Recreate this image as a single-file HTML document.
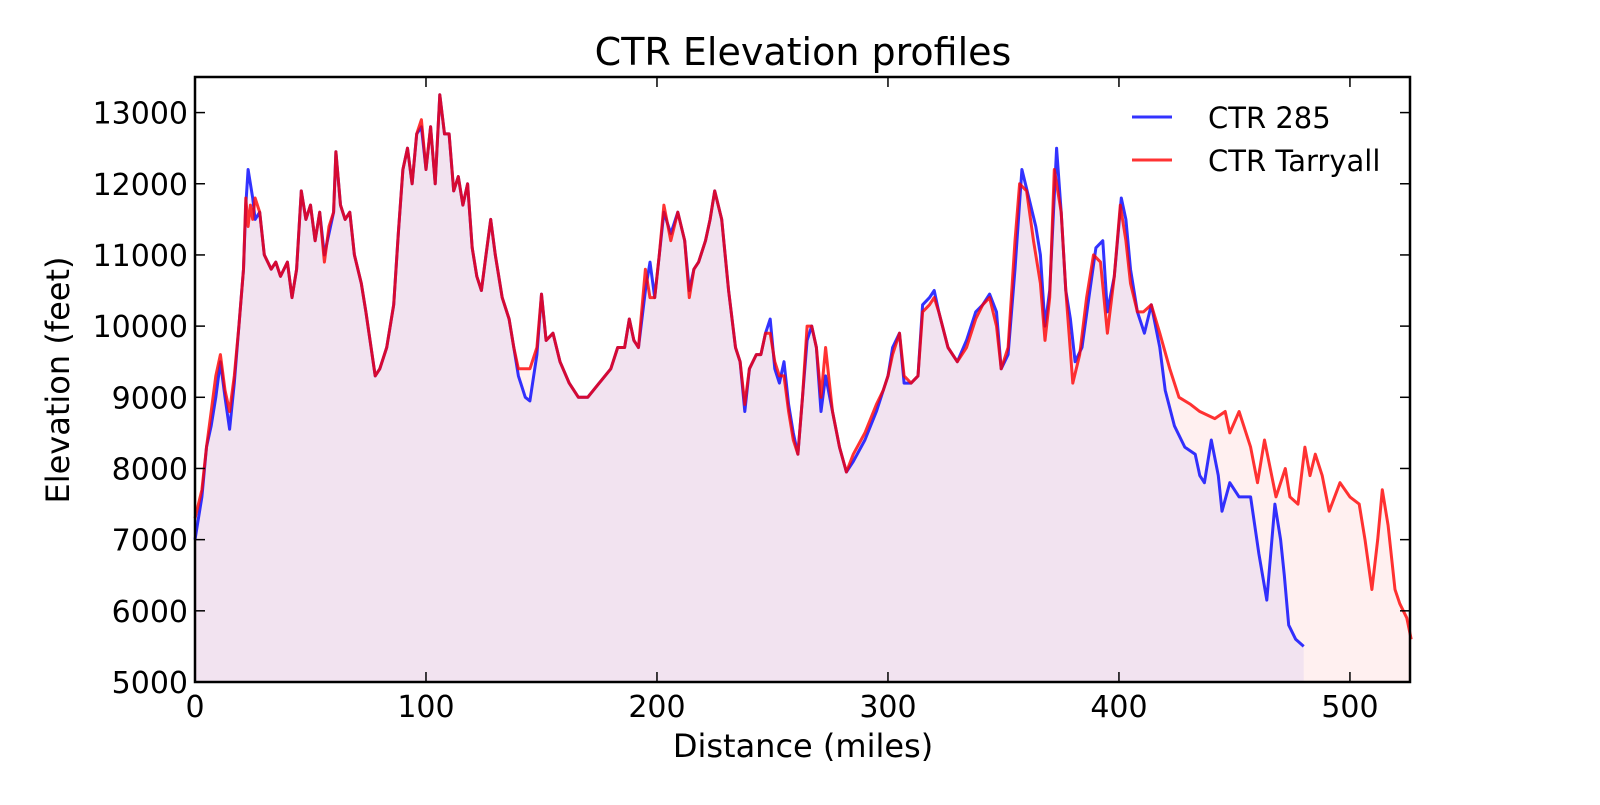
<!DOCTYPE html>
<html><head><meta charset="utf-8"><style>
body{margin:0;background:#fff;}
svg text{font-family:"DejaVu Sans","Liberation Sans",sans-serif;fill:#000;}
</style></head><body>
<svg id="chart" width="1600" height="800" viewBox="0 0 1600 800" xmlns="http://www.w3.org/2000/svg">
<rect width="1600" height="800" fill="#fff"/>
<text x="803" y="65" font-size="38" text-anchor="middle">CTR Elevation profiles</text>
<g id="fills"></g><g id="lines"></g><g id="axes"></g>
<text x="803" y="757" font-size="32" text-anchor="middle">Distance (miles)</text>
<text transform="translate(69,380) rotate(-90)" font-size="32" text-anchor="middle">Elevation (feet)</text>
<g>
<line x1="1132" y1="117" x2="1172" y2="117" stroke="rgba(0,0,255,0.8)" stroke-width="3"/>
<text x="1208" y="128" font-size="29">CTR 285</text>
<line x1="1132" y1="160" x2="1172" y2="160" stroke="rgba(255,0,0,0.8)" stroke-width="3"/>
<text x="1208" y="171" font-size="29">CTR Tarryall</text>
</g>
</svg>
<script>
const blueMiles=[0,3,5,7,9,11,13,15,17,19,21,22,23,24,25,26,28,30,33,35,37,40,42,44,46,48,50,52,54,56,58,60,61,63,65,67,69,72,74,78,80,83,86,88,90,92,94,96,98,100,102,104,106,108,110,112,114,116,118,120,122,124,126,128,130,133,136,138,140,143,145,148,150,152,155,158,162,166,170,175,180,183,186,188,190,192,195,197,199,201,203,206,209,212,214,216,218,221,223,225,228,231,234,236,238,240,243,245,247,249,251,253,255,257,259,261,263,265,267,269,271,273,276,279,282,285,290,295,298,300,302,305,307,310,313,315,318,320,322,326,330,334,338,341,344,347,349,352,355,358,361,364,366,368,370,373,375,377,379,381,384,387,390,393,395,398,401,403,405,408,411,414,417.7,420,424,428.5,433,435,437,440,443,444.6,448,452,457,460.6,464,467.5,470,471.6,473.5,476.5,480];
const blueElev=[7000,7600,8300,8600,9000,9500,9000,8550,9200,10000,10800,11700,12200,12000,11800,11500,11600,11000,10800,10900,10700,10900,10400,10800,11900,11500,11700,11200,11600,11000,11300,11600,12450,11700,11500,11600,11000,10600,10200,9300,9400,9700,10300,11300,12200,12500,12000,12700,12800,12200,12800,12000,13250,12700,12700,11900,12100,11700,12000,11100,10700,10500,11000,11500,11000,10400,10100,9700,9300,9000,8950,9600,10450,9800,9900,9500,9200,9000,9000,9200,9400,9700,9700,10100,9800,9700,10500,10900,10400,11000,11600,11300,11600,11200,10500,10800,10900,11200,11500,11900,11500,10500,9700,9500,8800,9400,9600,9600,9900,10100,9400,9200,9500,8900,8500,8200,9000,9800,10000,9700,8800,9300,8800,8300,7950,8100,8400,8800,9100,9300,9700,9900,9200,9200,9300,10300,10400,10500,10200,9700,9500,9800,10200,10300,10450,10200,9400,9600,10800,12200,11800,11400,11000,10000,10500,12500,11600,10500,10100,9500,9700,10400,11100,11200,10200,10700,11800,11500,10800,10200,9900,10300,9700,9100,8600,8300,8200,7900,7800,8400,7900,7400,7800,7600,7600,6800,6150,7500,7000,6500,5800,5600,5500];
const redMiles=[0,3,5,7,9,11,13,15,17,19,21,22,23,24,25,26,28,30,33,35,37,40,42,44,46,48,50,52,54,56,58,60,61,63,65,67,69,72,74,78,80,83,86,88,90,92,94,96,98,100,102,104,106,108,110,112,114,116,118,120,122,124,126,128,130,133,136,138,140,143,145,148,150,152,155,158,162,166,170,175,180,183,186,188,190,192,195,197,199,201,203,206,209,212,214,216,218,221,223,225,228,231,234,236,238,240,243,245,247,249,251,253,255,257,259,261,263,265,267,269,271,273,276,279,282,285,290,295,298,300,302,305,307,310,313,315,318,320,322,326,330,334,338,341,344,347,349,352,355,357,360,363,366,368,370,372,375,377,380,383,386,389,392,395,398,400.6,403,405,408,410.6,414,417.7,422,426,431,435,441.5,446,448,452,457,460,463,468,472,474,477.5,480.5,482.7,485,488,491,495.7,500,504,506.5,509.5,512,514,516.5,519.5,521.6,524.6,526.5];
const redElev=[7300,7700,8300,8800,9300,9600,9100,8800,9300,10000,10800,11800,11400,11700,11500,11800,11600,11000,10800,10900,10700,10900,10400,10800,11900,11500,11700,11200,11600,10900,11400,11600,12450,11700,11500,11600,11000,10600,10200,9300,9400,9700,10300,11300,12200,12500,12000,12700,12900,12200,12800,12000,13250,12700,12700,11900,12100,11700,12000,11100,10700,10500,11000,11500,11000,10400,10100,9700,9400,9400,9400,9700,10450,9800,9900,9500,9200,9000,9000,9200,9400,9700,9700,10100,9800,9700,10800,10400,10400,11000,11700,11200,11600,11200,10400,10800,10900,11200,11500,11900,11500,10500,9700,9500,8900,9400,9600,9600,9900,9900,9500,9300,9300,8800,8400,8200,9000,10000,10000,9700,9000,9700,8800,8300,7950,8200,8500,8900,9100,9300,9600,9900,9300,9200,9300,10200,10300,10400,10200,9700,9500,9700,10100,10300,10400,10000,9400,9700,11200,12000,11900,11200,10600,9800,10400,12200,11600,10500,9200,9600,10400,11000,10900,9900,10700,11700,11200,10600,10200,10200,10300,9900,9400,9000,8900,8800,8700,8800,8500,8800,8300,7800,8400,7600,8000,7600,7500,8300,7900,8200,7900,7400,7800,7600,7500,7000,6300,7000,7700,7200,6300,6100,5900,5600];
const xTicks=[0,100,200,300,400,500];
const yTicks=[5000,6000,7000,8000,9000,10000,11000,12000,13000];

const NS="http://www.w3.org/2000/svg";
const L=195,R=1410,T=77,B=682,XMAX=526,YMIN=5000,YMAX=13500;
const xs=m=>L+m*(R-L)/XMAX;
const ys=v=>B-(v-YMIN)*(B-T)/(YMAX-YMIN);
function mk(tag,attrs,parent){const e=document.createElementNS(NS,tag);for(const k in attrs)e.setAttribute(k,attrs[k]);parent.appendChild(e);return e;}
function pts(ms,vs){return ms.map((m,i)=>xs(m).toFixed(1)+","+ys(vs[i]).toFixed(1)).join(" ");}
const fills=document.getElementById("fills"),lines=document.getElementById("lines"),axes=document.getElementById("axes");
function series(ms,vs,fillC,lineC,name){
  const p=pts(ms,vs);
  const f=mk("polygon",{points:xs(ms[0])+","+B+" "+p+" "+xs(ms[ms.length-1])+","+B,fill:fillC},fills);
  
  
  const l=mk("polyline",{points:p,fill:"none",stroke:lineC,"stroke-width":3,"stroke-linejoin":"round"},lines);
  
  
}
series(redMiles,redElev,"rgba(255,0,0,0.06)","rgba(255,0,0,0.8)","ctr-tarryall");
series(blueMiles,blueElev,"rgba(0,0,255,0.05)","rgba(0,0,255,0.8)","ctr-285");
lines.appendChild(lines.firstChild);
const frame=mk("rect",{x:L,y:T,width:R-L,height:B-T,fill:"none",stroke:"#000","stroke-width":2.5},axes);


xTicks.forEach(t=>{const x=xs(t);
  mk("line",{x1:x,y1:B,x2:x,y2:B-10,stroke:"#000","stroke-width":1.5},axes);
  mk("line",{x1:x,y1:T,x2:x,y2:T+10,stroke:"#000","stroke-width":1.5},axes);
  const tx=mk("text",{x:x,y:B+35,"font-size":30,"text-anchor":"middle"},axes);tx.textContent=t;
  
  
});
yTicks.forEach(t=>{const y=ys(t);
  mk("line",{x1:L,y1:y,x2:L+10,y2:y,stroke:"#000","stroke-width":1.5},axes);
  mk("line",{x1:R,y1:y,x2:R-10,y2:y,stroke:"#000","stroke-width":1.5},axes);
  const tx=mk("text",{x:L-7,y:y+11,"font-size":30,"text-anchor":"end"},axes);tx.textContent=t;
  
  
});
</script>
</body></html>
